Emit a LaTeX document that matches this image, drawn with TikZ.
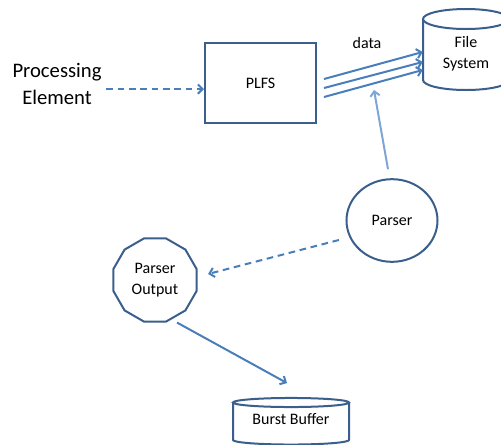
\documentclass[tikz,border=0pt]{standalone}
\usepackage{fontspec}
\setmainfont{Carlito}
\usetikzlibrary{shapes.geometric,arrows.meta}
\definecolor{edgeblue}{HTML}{3A5F8C}
\definecolor{linkblue}{HTML}{4A7EBB}
\definecolor{paleblue}{HTML}{7FA5D6}
\begin{document}
\begin{tikzpicture}[x=0.75pt,y=-0.75pt,
        shapeline/.style={draw=edgeblue,line width=1.5pt,fill=white},
        txt/.style={font=\fontsize{12}{15.5}\selectfont,align=center},
        flow/.style={draw=linkblue,line width=1.5pt,-{Straight Barb[length=3.5pt,width=7pt]}},
        dashflow/.style={flow,dash pattern=on 5pt off 3.5pt}]
            \useasboundingbox (0,0) rectangle (501,444);
            \clip (0,0) rectangle (501,444);
            % file system drum
            \draw[shapeline] (423,19) -- (423,80) arc[start angle=180,end angle=360,x radius=32.25pt,y radius=7.5pt] -- (509,19);
            \draw[shapeline] (466,19) ellipse [x radius=32.25pt,y radius=7.5pt];
            % burst buffer drum
            \draw[shapeline] (233,402.5) -- (233,440) arc[start angle=180,end angle=360,x radius=43.5pt,y radius=3.4pt] -- (349,402.5);
            \draw[shapeline] (291,402.5) ellipse [x radius=43.5pt,y radius=3.4pt];
            \node[txt,font=\fontsize{15.5}{20}\selectfont] (pe) at (57,84) {Processing\\Element};
            \node[shapeline,txt,minimum width=83.25pt,minimum height=60pt] (plfs) at (260.5,83) {PLFS};
            \node[txt] (data) at (367,43) {data};
            \node[txt,minimum width=64.5pt,minimum height=45pt] (fs) at (466,53.5) {File\\System};
            \node[shapeline,txt,ellipse,inner sep=0pt,minimum width=68.25pt,minimum height=62pt] (parser) at (392,220.5) {Parser};
            \node[shapeline,txt,regular polygon,regular polygon sides=12,inner sep=0pt,minimum size=64.5pt] (po) at (155,280) {Parser\\Output};
            \node[txt,minimum width=87pt,minimum height=28pt] (bb) at (291,419) {Burst Buffer};
            \coordinate (hit) at (374,90);
            \draw[dashflow] ([yshift=-3.75pt]pe.east) -- ([yshift=-4.5pt]plfs.west);
            \foreach \a/\b in {3/1.125,-3.75/-6.375,-10.5/-12.375}
            {
                \draw[flow] ([xshift=5.25pt,yshift=\a pt]plfs.east) -- ([yshift=\b pt]fs.west);
            }
            \draw[flow,draw=paleblue] ([xshift=-3pt,yshift=6.75pt]parser.north) -- (hit);
            \draw[dashflow] ([xshift=-4.9pt,yshift=-14.6pt]parser.west) -- ([xshift=7.9pt,yshift=4.5pt]po.east);
            \draw[flow] ([xshift=16.5pt]po.south) -- ([xshift=-3pt,yshift=12.75pt]bb.north);
        \end{tikzpicture}
\end{document}
